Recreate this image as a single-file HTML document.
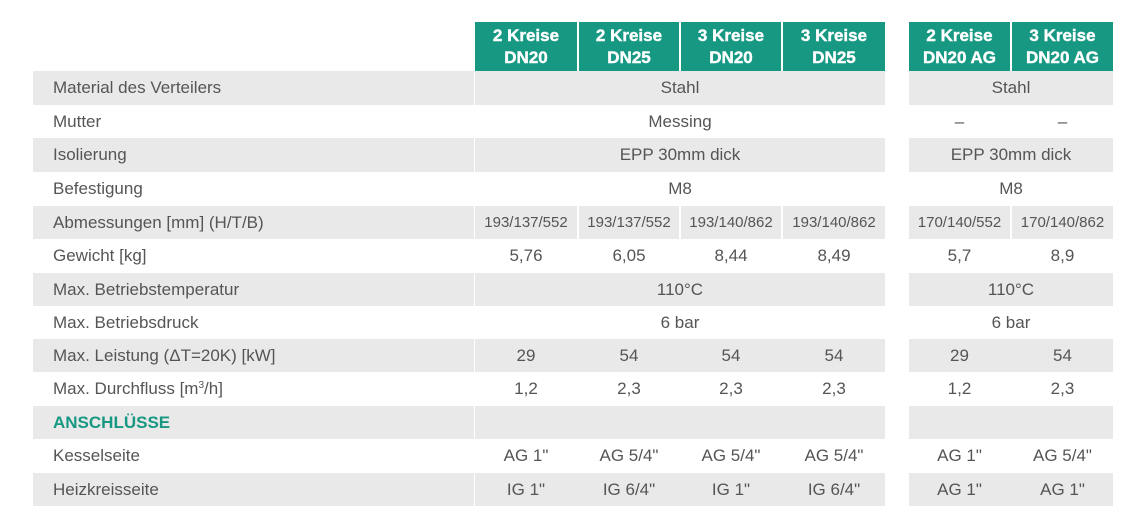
<!DOCTYPE html>
<html><head><meta charset="utf-8">
<style>
*{margin:0;padding:0;box-sizing:border-box}
html,body{width:1142px;height:527px;background:#fff;overflow:hidden}
body{position:relative;font-family:"Liberation Sans",Arial,sans-serif;color:#555}
.a{position:absolute}
.g{background:#e8e9e8}
.h{background:#179883;color:#fff;font-weight:bold;font-size:17px;line-height:21.5px;text-align:center;padding-top:3px;top:22px;height:49px;-webkit-text-stroke:0.4px #fff}
.t{position:absolute;text-align:center;font-size:17px;white-space:nowrap}
.l{position:absolute;left:53px;font-size:17px;white-space:nowrap}
.s{font-size:15px}
</style></head><body>

<!-- headers -->
<div class="a h" style="left:475px;width:102px">2 Kreise<br>DN20</div>
<div class="a h" style="left:579px;width:100px">2 Kreise<br>DN25</div>
<div class="a h" style="left:681px;width:100px">3 Kreise<br>DN20</div>
<div class="a h" style="left:783px;width:102px">3 Kreise<br>DN25</div>
<div class="a h" style="left:909px;width:101px">2 Kreise<br>DN20 AG</div>
<div class="a h" style="left:1012px;width:101px">3 Kreise<br>DN20 AG</div>

<!-- gray row backgrounds -->
<div class="a g" style="left:33px;width:441px;top:71px;height:33.5px"></div>
<div class="a g" style="left:475px;width:410px;top:71px;height:33.5px"></div>
<div class="a g" style="left:909px;width:204px;top:71px;height:33.5px"></div>

<div class="a g" style="left:33px;width:441px;top:138px;height:33.5px"></div>
<div class="a g" style="left:475px;width:410px;top:138px;height:33.5px"></div>
<div class="a g" style="left:909px;width:204px;top:138px;height:33.5px"></div>

<div class="a g" style="left:33px;width:441px;top:205.5px;height:33.5px"></div>
<div class="a g" style="left:475px;width:102px;top:205.5px;height:33.5px"></div>
<div class="a g" style="left:579px;width:100px;top:205.5px;height:33.5px"></div>
<div class="a g" style="left:681px;width:100px;top:205.5px;height:33.5px"></div>
<div class="a g" style="left:783px;width:102px;top:205.5px;height:33.5px"></div>
<div class="a g" style="left:909px;width:101px;top:205.5px;height:33.5px"></div>
<div class="a g" style="left:1012px;width:101px;top:205.5px;height:33.5px"></div>

<div class="a g" style="left:33px;width:441px;top:272.5px;height:33.5px"></div>
<div class="a g" style="left:475px;width:410px;top:272.5px;height:33.5px"></div>
<div class="a g" style="left:909px;width:204px;top:272.5px;height:33.5px"></div>

<div class="a g" style="left:33px;width:441px;top:338.5px;height:33.5px"></div>
<div class="a g" style="left:475px;width:410px;top:338.5px;height:33.5px"></div>
<div class="a g" style="left:909px;width:204px;top:338.5px;height:33.5px"></div>

<div class="a g" style="left:33px;width:441px;top:405.5px;height:33.5px"></div>
<div class="a g" style="left:475px;width:410px;top:405.5px;height:33.5px"></div>
<div class="a g" style="left:909px;width:204px;top:405.5px;height:33.5px"></div>

<div class="a g" style="left:33px;width:441px;top:472.5px;height:33.5px"></div>
<div class="a g" style="left:475px;width:410px;top:472.5px;height:33.5px"></div>
<div class="a g" style="left:909px;width:204px;top:472.5px;height:33.5px"></div>

<!-- labels -->
<div class="l" style="top:71px;line-height:33.5px">Material des Verteilers</div>
<div class="l" style="top:104.5px;line-height:33.5px">Mutter</div>
<div class="l" style="top:138px;line-height:33.5px">Isolierung</div>
<div class="l" style="top:171.5px;line-height:33.5px">Befestigung</div>
<div class="l" style="top:205.5px;line-height:33.5px">Abmessungen [mm] (H/T/B)</div>
<div class="l" style="top:239px;line-height:33.5px">Gewicht [kg]</div>
<div class="l" style="top:272.5px;line-height:33.5px">Max. Betriebstemperatur</div>
<div class="l" style="top:305.5px;line-height:33.5px">Max. Betriebsdruck</div>
<div class="l" style="top:338.5px;line-height:33.5px">Max. Leistung (ΔT=20K) [kW]</div>
<div class="l" style="top:372px;line-height:33.5px">Max. Durchfluss [m<sup style="font-size:10px;vertical-align:6px;line-height:0">3</sup>/h]</div>
<div class="l" style="top:405.5px;line-height:33.5px;color:#179883;font-weight:bold">ANSCHLÜSSE</div>
<div class="l" style="top:439px;line-height:33.5px">Kesselseite</div>
<div class="l" style="top:472.5px;line-height:33.5px">Heizkreisseite</div>

<!-- row 0 -->
<div class="t" style="left:475px;width:410px;top:71px;line-height:33.5px">Stahl</div>
<div class="t" style="left:909px;width:204px;top:71px;line-height:33.5px">Stahl</div>
<!-- row 1 -->
<div class="t" style="left:475px;width:410px;top:104.5px;line-height:33.5px">Messing</div>
<div class="t" style="left:909px;width:101px;top:104.5px;line-height:33.5px">–</div>
<div class="t" style="left:1012px;width:101px;top:104.5px;line-height:33.5px">–</div>
<!-- row 2 -->
<div class="t" style="left:475px;width:410px;top:138px;line-height:33.5px">EPP 30mm dick</div>
<div class="t" style="left:909px;width:204px;top:138px;line-height:33.5px">EPP 30mm dick</div>
<!-- row 3 -->
<div class="t" style="left:475px;width:410px;top:171.5px;line-height:33.5px">M8</div>
<div class="t" style="left:909px;width:204px;top:171.5px;line-height:33.5px">M8</div>
<!-- row 4 -->
<div class="t s" style="left:475px;width:102px;top:205.5px;line-height:33.5px">193/137/552</div>
<div class="t s" style="left:579px;width:100px;top:205.5px;line-height:33.5px">193/137/552</div>
<div class="t s" style="left:681px;width:100px;top:205.5px;line-height:33.5px">193/140/862</div>
<div class="t s" style="left:783px;width:102px;top:205.5px;line-height:33.5px">193/140/862</div>
<div class="t s" style="left:909px;width:101px;top:205.5px;line-height:33.5px">170/140/552</div>
<div class="t s" style="left:1012px;width:101px;top:205.5px;line-height:33.5px">170/140/862</div>
<!-- row 5 -->
<div class="t" style="left:475px;width:102px;top:239px;line-height:33.5px">5,76</div>
<div class="t" style="left:579px;width:100px;top:239px;line-height:33.5px">6,05</div>
<div class="t" style="left:681px;width:100px;top:239px;line-height:33.5px">8,44</div>
<div class="t" style="left:783px;width:102px;top:239px;line-height:33.5px">8,49</div>
<div class="t" style="left:909px;width:101px;top:239px;line-height:33.5px">5,7</div>
<div class="t" style="left:1012px;width:101px;top:239px;line-height:33.5px">8,9</div>
<!-- row 6 -->
<div class="t" style="left:475px;width:410px;top:272.5px;line-height:33.5px">110°C</div>
<div class="t" style="left:909px;width:204px;top:272.5px;line-height:33.5px">110°C</div>
<!-- row 7 -->
<div class="t" style="left:475px;width:410px;top:305.5px;line-height:33.5px">6 bar</div>
<div class="t" style="left:909px;width:204px;top:305.5px;line-height:33.5px">6 bar</div>
<!-- row 8 -->
<div class="t" style="left:475px;width:102px;top:338.5px;line-height:33.5px">29</div>
<div class="t" style="left:579px;width:100px;top:338.5px;line-height:33.5px">54</div>
<div class="t" style="left:681px;width:100px;top:338.5px;line-height:33.5px">54</div>
<div class="t" style="left:783px;width:102px;top:338.5px;line-height:33.5px">54</div>
<div class="t" style="left:909px;width:101px;top:338.5px;line-height:33.5px">29</div>
<div class="t" style="left:1012px;width:101px;top:338.5px;line-height:33.5px">54</div>
<!-- row 9 -->
<div class="t" style="left:475px;width:102px;top:372px;line-height:33.5px">1,2</div>
<div class="t" style="left:579px;width:100px;top:372px;line-height:33.5px">2,3</div>
<div class="t" style="left:681px;width:100px;top:372px;line-height:33.5px">2,3</div>
<div class="t" style="left:783px;width:102px;top:372px;line-height:33.5px">2,3</div>
<div class="t" style="left:909px;width:101px;top:372px;line-height:33.5px">1,2</div>
<div class="t" style="left:1012px;width:101px;top:372px;line-height:33.5px">2,3</div>
<!-- row 11 -->
<div class="t" style="left:475px;width:102px;top:439px;line-height:33.5px">AG 1"</div>
<div class="t" style="left:579px;width:100px;top:439px;line-height:33.5px">AG 5/4"</div>
<div class="t" style="left:681px;width:100px;top:439px;line-height:33.5px">AG 5/4"</div>
<div class="t" style="left:783px;width:102px;top:439px;line-height:33.5px">AG 5/4"</div>
<div class="t" style="left:909px;width:101px;top:439px;line-height:33.5px">AG 1"</div>
<div class="t" style="left:1012px;width:101px;top:439px;line-height:33.5px">AG 5/4"</div>
<!-- row 12 -->
<div class="t" style="left:475px;width:102px;top:472.5px;line-height:33.5px">IG 1"</div>
<div class="t" style="left:579px;width:100px;top:472.5px;line-height:33.5px">IG 6/4"</div>
<div class="t" style="left:681px;width:100px;top:472.5px;line-height:33.5px">IG 1"</div>
<div class="t" style="left:783px;width:102px;top:472.5px;line-height:33.5px">IG 6/4"</div>
<div class="t" style="left:909px;width:101px;top:472.5px;line-height:33.5px">AG 1"</div>
<div class="t" style="left:1012px;width:101px;top:472.5px;line-height:33.5px">AG 1"</div>

</body></html>
